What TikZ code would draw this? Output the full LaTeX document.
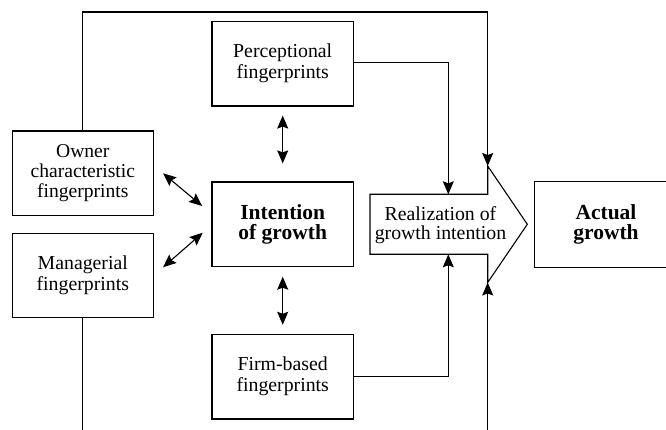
\documentclass[tikz,border=0pt]{standalone}
\usepackage{fontspec}
\setmainfont{Liberation Serif}
\newfontfamily\diagserif{Liberation Serif}
\usetikzlibrary{arrows.meta,calc}
\begin{document}
\begin{tikzpicture}[x=1pt,y=-1pt,
  txt/.style={font=\diagserif\fontsize{19.8pt}{21pt}\selectfont},
  boldtxt/.style={font=\diagserif\fontsize{21.5pt}{20pt}\selectfont\bfseries},
  box/.style={draw, line width=1.2pt, minimum width=141.3pt, minimum height=84.6pt, inner sep=0pt, align=center, txt},
  conn/.style={line width=1.1pt},
  tip/.style={-{Stealth[length=13pt,width=11pt,inset=2pt]}},
  dtip/.style={{Stealth[length=13pt,width=11pt,inset=2pt]}-{Stealth[length=13pt,width=11pt,inset=2pt]}}
]
\fill[white] (0,0) rectangle (666,430);
\useasboundingbox (0,0) rectangle (666,430);

% boxes
\node[box] (perc) at (282.7,63.7) {Perceptional\\fingerprints};
\node[box, font=\diagserif\fontsize{19.6pt}{20.3pt}\selectfont] (owner) at (82.8,173.3) {Owner\\characteristic\\fingerprints};
\node[box] (manag) at (82.8,275.5) {Managerial\\fingerprints};
\node[box, boldtxt] (intent) at (282.7,224.3) {Intention\\of growth};
\node[box] (firm) at (282.7,376.7) {Firm-based\\fingerprints};
\node[box, draw=none, boldtxt] (actual) at (606,224.5) {Actual\\growth};
\coordinate (edgeR) at (666,0);
\draw[line width=1.2pt] (actual.north west -| edgeR) -- (actual.north west) -- (actual.south west) -- (actual.south west -| edgeR);

% realization arrow shape
\coordinate (rtl) at (370,194.3);
\coordinate (rbl) at (370,254.3);
\coordinate (rnt) at (487.7,194.3);
\coordinate (rht) at (487.7,166);
\coordinate (rtip) at (527.3,224.3);
\coordinate (rhb) at (487.7,282.5);
\coordinate (rnb) at (487.7,254.3);
\draw[line width=1.1pt, line join=miter] (rtl) -- (rnt) -- (rht) -- (rtip) -- (rhb) -- (rnb) -- (rbl) -- cycle;
\node[font=\diagserif\fontsize{19.8pt}{19pt}\selectfont, align=center, inner sep=0pt] (real) at (440.5,225.5) {Realization of\\growth intention};

% feedback lines
\coordinate (topR) at (487.7,12);
\coordinate (botL) at (82.8,430);
\coordinate (botR) at (487.7,430);
\draw[conn,tip] (owner.north) |- (topR) -- (rht);
\draw[conn] (manag.south) -- (botL);
\draw[conn,tip] (botR) -- (rhb);

% into realization
\coordinate (bt) at (448.3,194.3);
\coordinate (bb) at (448.3,254.3);
\draw[conn,tip] ([yshift=1.4pt]perc.east) -| (bt);
\draw[conn,tip] (firm.east) -| (bb);

% double arrows
\draw[conn,dtip] ([yshift=-9pt]perc.south) -- ([yshift=18pt]intent.north);
\draw[conn,dtip] ([yshift=-9.5pt]intent.south) -- ([yshift=9pt]firm.north);
\draw[conn,dtip] ([xshift=9pt,yshift=0pt]owner.east) -- ([xshift=-9.3pt,yshift=18.3pt]intent.west);
\draw[conn,dtip] ([xshift=9pt,yshift=8.2pt]manag.east) -- ([xshift=-8.7pt,yshift=-8.4pt]intent.west);
\end{tikzpicture}
\end{document}
